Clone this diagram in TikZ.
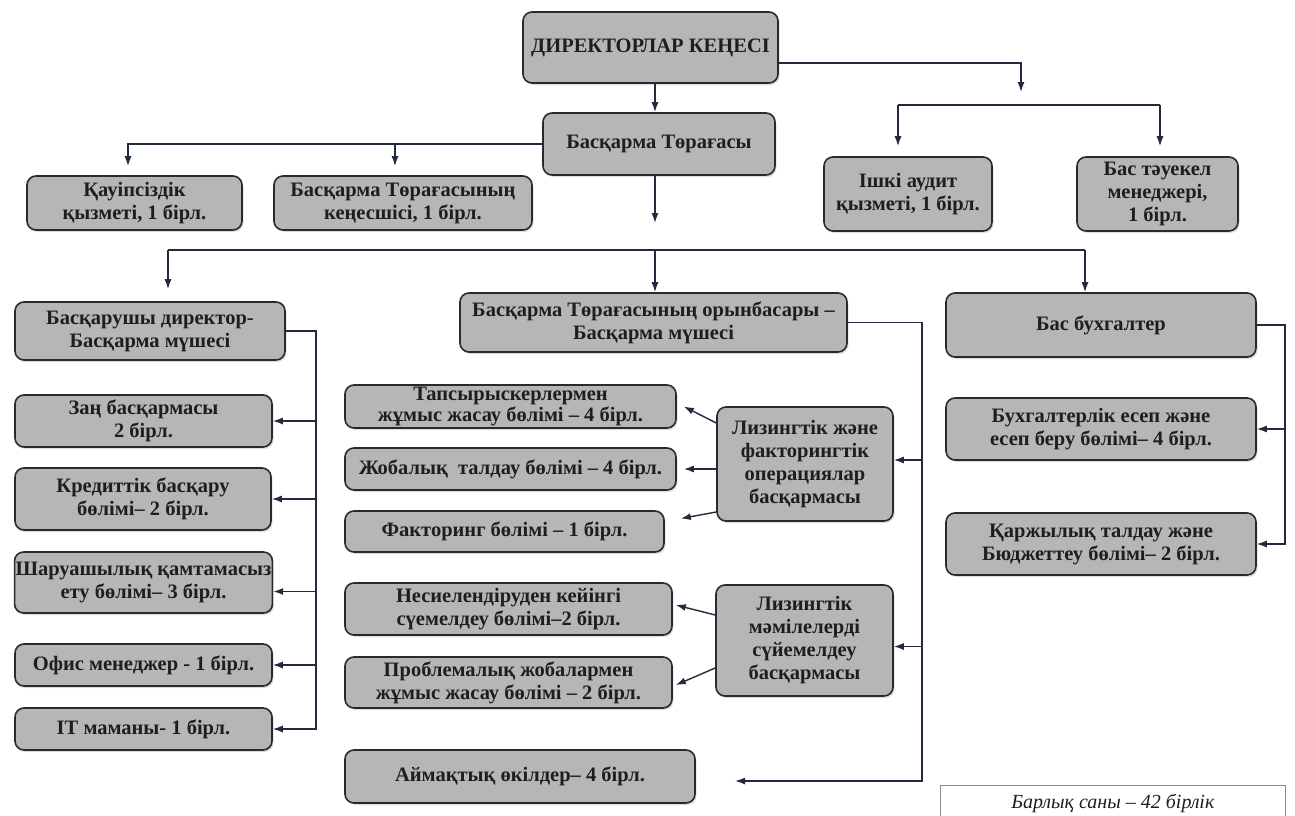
\documentclass[tikz,border=0pt]{standalone}
\usepackage{fontspec}
\setmainfont{Liberation Serif}
\usetikzlibrary{arrows.meta,shadows,calc}
\definecolor{boxgray}{RGB}{182,182,182}
\definecolor{boxborder}{RGB}{40,42,50}
\definecolor{textcol}{RGB}{30,30,32}
\definecolor{linecol}{RGB}{35,42,60}
\begin{document}
\begin{tikzpicture}[x=1pt,y=-1pt,
  box/.style={draw=boxborder, line width=1.6pt, fill=boxgray, rounded corners=9pt,
    align=center, inner xsep=1pt, inner ysep=1pt, text=textcol,
    font=\bfseries\fontsize{20.5}{23}\selectfont,
    drop shadow={shadow xshift=1.5pt, shadow yshift=-2pt, fill=black!25}},
  sz/.style 2 args={minimum width=#1, minimum height=#2},
  conn/.style={draw=linecol, line width=1.4pt},
  arr/.style={conn, -{Latex[length=10pt,width=7pt]}}]
\fill[white] (0,0) rectangle (1295,816);
\useasboundingbox (0,0) rectangle (1295,816);

% top
\node[box, sz={255}{71}] (D) at (650.5,47.5) {ДИРЕКТОРЛАР КЕҢЕСІ};
\node[box, sz={232}{62}] (T) at (659,144) {Басқарма Төрағасы};
\node[box, sz={215}{54}] (S) at (134.5,203) {Қауіпсіздік\\қызметі, 1 бірл.};
\node[box, sz={258}{54}] (K) at (403,203) {Басқарма Төрағасының\\кеңесшісі, 1 бірл.};
\node[box, sz={168}{74}] (A) at (908,194) {Ішкі аудит\\қызметі, 1 бірл.};
\node[box, sz={161}{74}] (R) at (1157.5,194) {Бас тәуекел\\менеджері,\\1 бірл.};

% left column
\node[box, sz={270}{58}] (MD) at (150,331) {Басқарушы директор-\\Басқарма мүшесі};
\node[box, sz={257}{52}] (Zan) at (143.5,421) {Заң басқармасы\\2 бірл.};
\node[box, sz={256}{62}] (Kred) at (143,499) {Кредиттік басқару\\бөлімі– 2 бірл.};
\node[box, sz={257}{61}] (Shar) at (143.5,582.5) {Шаруашылық қамтамасыз\\ету бөлімі– 3 бірл.};
\node[box, sz={257}{42}] (Ofis) at (143.5,665) {Офис менеджер - 1 бірл.};
\node[box, sz={257}{42}] (IT) at (143.5,729) {IT маманы- 1 бірл.};

% middle
\node[box, sz={387}{59}] (DEP) at (653.5,322.5) {Басқарма Төрағасының орынбасары –\\Басқарма мүшесі};
\node[box, sz={331}{43}, inner ysep=0pt, font=\bfseries\fontsize{20.5}{21}\selectfont] (Taps) at (510.5,406.5) {Тапсырыскерлермен\\жұмыс жасау бөлімі – 4 бірл.};
\node[box, sz={331}{42}] (Job) at (510.5,469) {Жобалық\ \ талдау бөлімі – 4 бірл.};
\node[box, sz={319}{41}] (Fak) at (504.5,531.5) {Факторинг бөлімі – 1 бірл.};
\node[box, sz={176}{114}] (LF) at (805,464) {Лизингтік және\\факторингтік\\операциялар\\басқармасы};
\node[box, sz={327}{52}] (Nes) at (508.5,609) {Несиелендіруден кейінгі\\сүемелдеу бөлімі–2 бірл.};
\node[box, sz={327}{51}] (Prob) at (508.5,682.5) {Проблемалық жобалармен\\жұмыс жасау бөлімі – 2 бірл.};
\node[box, sz={177}{111}] (LM) at (804.5,640.5) {Лизингтік\\мәмілелерді\\сүйемелдеу\\басқармасы};
\node[box, sz={350}{53}] (Aim) at (520,776.5) {Аймақтық өкілдер– 4 бірл.};

% right
\node[box, sz={310}{64}] (BA) at (1101,325) {Бас бухгалтер};
\node[box, sz={310}{62}] (BU) at (1101,429) {Бухгалтерлік есеп және\\есеп беру бөлімі– 4 бірл.};
\node[box, sz={310}{62}] (QT) at (1101,544) {Қаржылық талдау және\\Бюджеттеу бөлімі– 2 бірл.};

\node[draw=black!45, line width=0.8pt, fill=white, minimum width=345, minimum height=36,
  anchor=north west, inner sep=0pt, text=textcol, font=\itshape\fontsize{20}{22}\selectfont]
  (tot) at (940,785) {Барлық саны – 42 бірлік};

% connectors: top
\coordinate (c1) at (655,0);
\draw[arr] (D.south -| c1) -- (T.north -| c1);
\coordinate (j1) at (1021,63);
\coordinate (j1e) at (1021,92);
\draw[arr] (D.east |- j1) -- (j1) -- (j1e);
\coordinate (ja) at (898,105);
\coordinate (jr) at (1160,105);
\draw[conn] (ja) -- (jr);
\draw[arr, shorten >=10pt] (ja) -- (ja |- A.north);
\draw[arr, shorten >=10pt] (jr) -- (jr |- R.north);
\coordinate (ts) at (128,0);
\coordinate (tk) at (395,0);
\draw[arr, shorten >=9pt] (T.west) -| (ts |- S.north);
\draw[arr, shorten >=9pt] (T.west -| tk) -- (tk |- K.north);

\coordinate (c2) at (655,223);
\draw[arr] (T.south -| c1) -- (c2);
\coordinate (h1) at (168,250);
\coordinate (h2) at (1085,250);
\draw[conn] (h1) -- (h2);
\draw[arr, shorten >=12pt] (h1) -- (h1 |- MD.north);
\draw[arr] (c1 |- h1) -- (c1 |- DEP.north);
\draw[arr] (h2) -- (h2 |- BA.north);

% left column
\coordinate (v1) at (316,0);
\draw[arr] (MD.east) -| (v1 |- IT.east) -- (IT.east);
\foreach \n in {Zan,Kred,Ofis} \draw[arr] (v1 |- \n.east) -- (\n.east);
\draw[arr] ([yshift=-9pt]v1 |- Shar.east) -- ([yshift=-9pt]Shar.east);

% middle
\coordinate (v2) at (922,0);
\coordinate (aimtip) at (735,781);
\draw[arr] (DEP.east) -| (v2 |- aimtip) -- (aimtip);
\draw[arr] ([yshift=4pt]v2 |- LF.east) -- ([yshift=4pt]LF.east);
\draw[arr] ([yshift=-6pt]v2 |- LM.east) -- ([yshift=-6pt]LM.east);
\draw[arr] ([yshift=41pt]LF.west) -- ([xshift=7pt]Taps.east);
\draw[arr] (LF.west |- Job.east) -- ([xshift=7pt]Job.east);
\draw[arr] ([yshift=-48pt]LF.west) -- ([xshift=16pt,yshift=13pt]Fak.east);
\draw[arr] ([yshift=25.5pt]LM.west) -- ([xshift=3pt,yshift=4pt]Nes.east);
\draw[arr] ([yshift=-27.5pt]LM.west) -- ([xshift=3pt,yshift=-2.5pt]Prob.east);

% right
\coordinate (v3) at (1285,0);
\draw[arr] (BA.east) -| (v3 |- QT.east) -- (QT.east);
\draw[arr] (v3 |- BU.east) -- (BU.east);
\end{tikzpicture}
\end{document}
